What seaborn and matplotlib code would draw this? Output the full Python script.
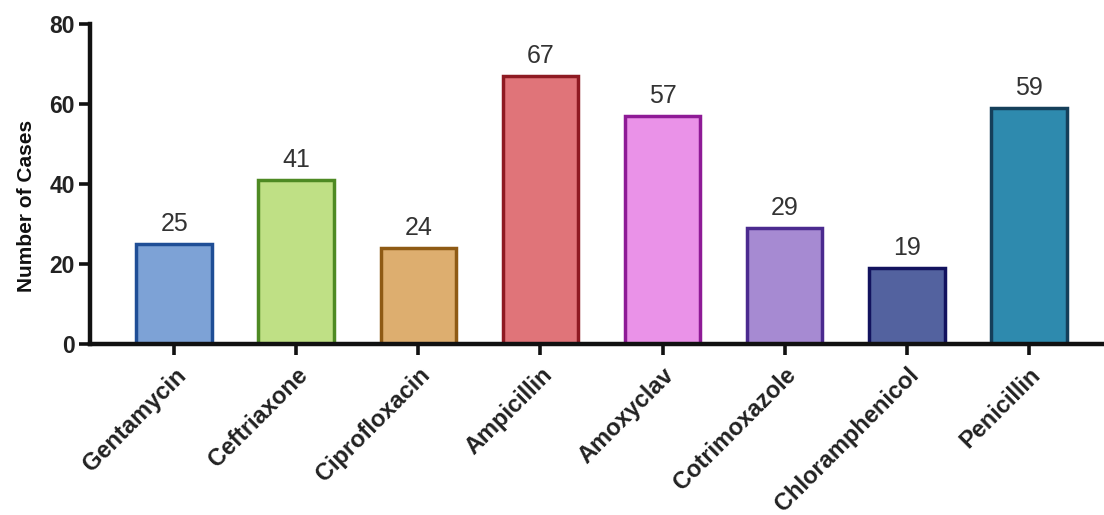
import matplotlib
matplotlib.use("Agg")
import matplotlib.pyplot as plt
import seaborn as sns
import pandas as pd

drugs = ["Gentamycin", "Ceftriaxone", "Ciprofloxacin", "Ampicillin",
         "Amoxyclav", "Cotrimoxazole", "Chloramphenicol", "Penicillin"]
cases = [25, 41, 24, 67, 57, 29, 19, 59]
fill_colors = ["#7DA2D6", "#BFE085", "#DDAE6F", "#E07479",
               "#EA92E8", "#A68AD2", "#53629F", "#2E8AAE"]
edge_colors = ["#1F4E96", "#4E8A23", "#8E5A14", "#8E1A22",
               "#8E1A96", "#4B2A8F", "#12125E", "#153F5A"]
y_ticks = [0, 20, 40, 60, 80]

sns.set_theme(style="white")
plt.rcParams["font.family"] = ["Liberation Sans", "DejaVu Sans"]

df = pd.DataFrame({"Drug": drugs, "Cases": cases})

fig = plt.figure(figsize=(11.04, 5.15), dpi=100)
ax = fig.add_axes([90 / 1104, 1 - 344 / 515, (1102 - 90) / 1104, (344 - 24) / 515])

sns.barplot(data=df, x="Drug", y="Cases", hue="Drug", palette=fill_colors,
            legend=False, width=0.62, ax=ax, saturation=1)

for patch, ec in zip(ax.patches, edge_colors):
    patch.set_edgecolor(ec)
    patch.set_linewidth(2.5)

for i, v in enumerate(cases):
    ax.annotate(str(v), (i, v), xytext=(0, 6), textcoords="offset points",
                ha="center", va="bottom", fontsize=18, color="#333333")

ax.set_xlim(-0.69, 7.6)
ax.set_ylim(0, 80)
ax.set_yticks(y_ticks)
ax.set_yticklabels([str(t) for t in y_ticks], fontsize=16.5, fontweight="bold",
                   color="#222222")
ax.set_xticks(range(len(drugs)))
ax.set_xticklabels(drugs, rotation=45, ha="right", rotation_mode="anchor",
                   fontsize=17, fontweight="bold", color="#222222")
ax.set_xlabel("")
ax.set_ylabel("Number of Cases", fontsize=15, fontweight="bold", color="#111111")
ax.yaxis.set_label_coords(-0.053, 0.43)

for side in ["top", "right"]:
    ax.spines[side].set_visible(False)
for side in ["left", "bottom"]:
    ax.spines[side].set_linewidth(3.2)
    ax.spines[side].set_color("#111111")
ax.tick_params(axis="both", which="both", length=8, width=2.6, color="#111111",
               left=True, bottom=True, pad=3)
ax.tick_params(axis="x", pad=6)

fig.savefig("out.png", dpi=100)
